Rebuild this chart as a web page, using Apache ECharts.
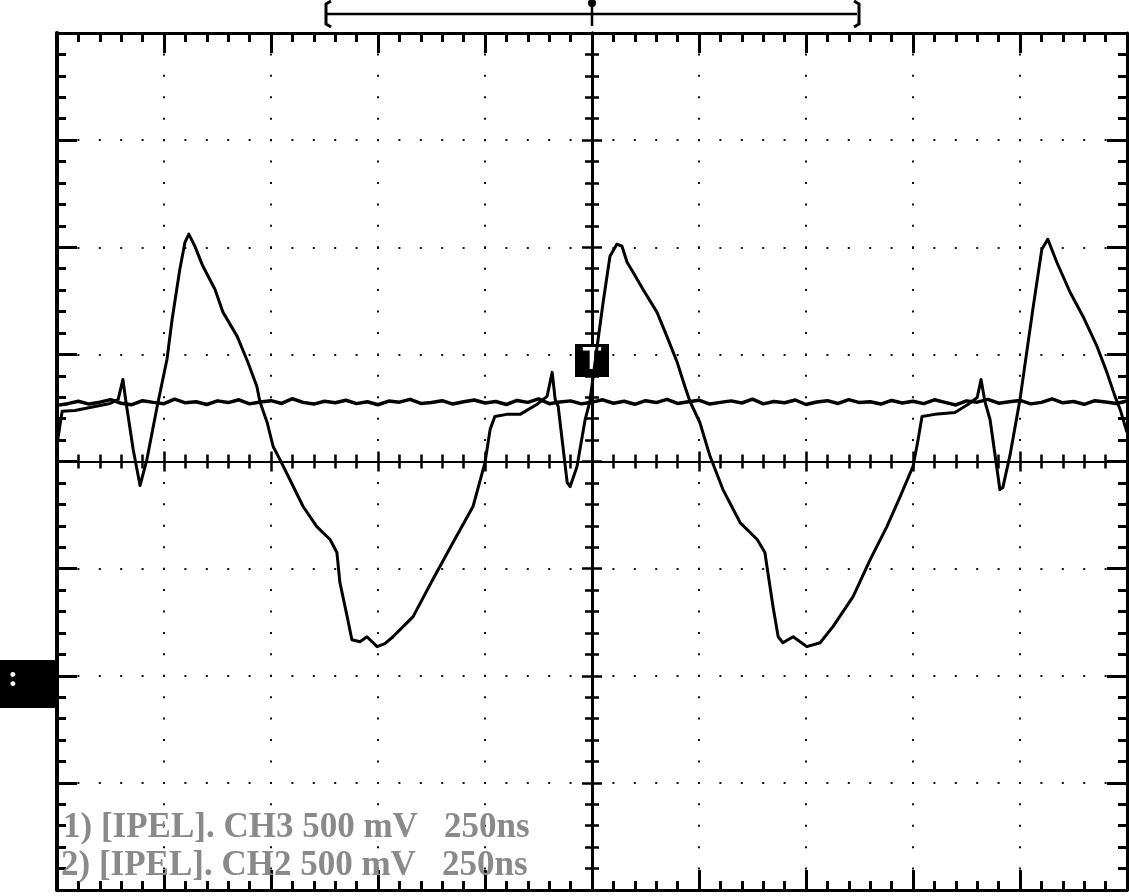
<!DOCTYPE html>
<html>
<head>
<meta charset="utf-8">
<script src="https://cdn.jsdelivr.net/npm/echarts@6/dist/echarts.min.js"></script>
<style>
html,body{margin:0;padding:0;background:#fff;}
#c{width:1129px;height:896px;}
</style>
</head>
<body>
<div id="c"></div>
<script>
// ---- data (time in ns relative to trigger, voltage in mV) ----
const timeMin = -1250, timeMax = 1250, timePerDiv = 250;
const voltMin = -2000, voltMax = 2000, voltPerDiv = 500;

// Channel 1: large triangular / trough waveform
const ch1 = [
  [-1250,79],[-1238,234],[-1208,238],[-1173,252],[-1126,271],[-1107,290],[-1096,383],[-1089,280],
  [-1072,56],[-1056,-112],[-1040,9],[-1016,257],[-993,477],[-981,664],[-963,897],[-951,1023],
  [-942,1061],[-928,1005],[-909,911],[-881,804],[-862,696],[-829,584],[-804,463],[-783,350],
  [-776,280],[-759,182],[-745,70],[-729,9],[-706,-84],[-675,-210],[-643,-304],[-612,-364],
  [-596,-425],[-589,-565],[-572,-724],[-561,-832],[-542,-841],[-526,-818],[-502,-864],[-484,-850],
  [-465,-818],[-418,-724],[-372,-551],[-325,-379],[-278,-210],[-250,-5],[-238,150],[-227,210],
  [-199,220],[-168,220],[-129,266],[-105,304],[-93,416],[-86,290],[-79,257],[-58,-98],
  [-51,-117],[-35,-23],[-16,196],[-5,280],[12,537],[26,743],[42,958],[58,1014],
  [70,1005],[82,930],[96,883],[119,804],[152,696],[175,584],[199,463],[217,350],
  [229,280],[252,182],[276,23],[306,-131],[346,-285],[386,-364],[404,-425],[411,-519],
  [423,-678],[435,-818],[446,-846],[470,-818],[502,-864],[533,-846],[563,-771],[610,-631],
  [650,-458],[689,-304],[720,-164],[750,-23],[762,103],[771,210],[801,220],[848,229],
  [878,266],[900,299],[909,383],[918,280],[930,196],[953,-131],[960,-121],[977,33],
  [1000,290],[1030,710],[1051,991],[1065,1037],[1086,930],[1117,790],[1147,678],[1180,537],
  [1203,416],[1222,304],[1234,243],[1250,136]
];

// Channel 2: nearly flat noisy trace
const ch2 = [
  [-1250,262],[-1225,270],[-1200,281],[-1175,268],[-1150,277],[-1125,289],[-1100,272],[-1075,265],[-1050,284],[-1025,276],
  [-1000,270],[-975,291],[-950,274],[-925,279],[-900,266],[-875,283],[-850,275],[-825,288],[-800,269],[-775,278],
  [-750,284],[-725,271],[-700,293],[-675,276],[-650,268],[-625,281],[-600,274],[-575,286],[-550,270],[-525,279],
  [-500,265],[-475,282],[-450,277],[-425,290],[-400,271],[-375,275],[-350,284],[-325,268],[-300,279],[-275,287],
  [-250,273],[-225,280],[-200,266],[-175,285],[-150,276],[-125,292],[-100,270],[-75,278],[-50,283],[-25,269],
  [0,277],[25,288],[50,272],[75,281],[100,267],[125,284],[150,275],[175,290],[200,271],[225,279],
  [250,286],[275,268],[300,276],[325,283],[350,273],[375,291],[400,269],[425,280],[450,274],[475,287],
  [500,266],[525,278],[550,284],[575,271],[600,289],[625,275],[650,279],[675,268],[700,285],[725,273],
  [750,281],[775,270],[800,288],[825,276],[850,264],[875,283],[900,277],[925,290],[950,272],[975,279],
  [1000,285],[1025,269],[1050,276],[1075,292],[1100,274],[1125,280],[1150,267],[1175,284],[1200,278],[1225,271],
  [1250,282]
];

const triggerPoint = [0, 471];
const triggerLabel = 'T';
const infoLines = ['1) [IPEL]. CH3 500 mV   250ns', '2) [IPEL]. CH2 500 mV   250ns'];
const groundLabel = ':';

// ---- chart ----
const black = '#000';
function axis(extra) {
  return Object.assign({
    type: 'value',
    axisLabel: { show: false },
    splitLine: { show: false },
    axisPointer: { show: false }
  }, extra);
}
function borderTicks(inside) {
  return {
    axisTick: { show: true, inside: inside, length: 20, lineStyle: { color: black, width: 3 } },
    minorTick: { show: true, splitNumber: 5, length: 9, lineStyle: { color: black, width: 3 } }
  };
}
function centerTicks(inside) {
  return {
    axisTick: { show: true, inside: inside, length: 10, lineStyle: { color: black, width: 2.5 } },
    minorTick: { show: true, splitNumber: 5, length: 7, lineStyle: { color: black, width: 2.5 } }
  };
}
const xr = { min: timeMin, max: timeMax, interval: timePerDiv };
const yr = { min: voltMin, max: voltMax, interval: voltPerDiv };

const xAxes = [
  axis(Object.assign({}, xr, borderTicks(true), {
    position: 'bottom',
    axisLine: { show: true, onZero: false, lineStyle: { color: black, width: 3 } },
    splitLine: { show: true, lineStyle: { color: '#111', width: 2, type: [2, 19.425], dashOffset: 1 } }
  })),
  axis(Object.assign({}, xr, borderTicks(true), {
    position: 'top',
    axisLine: { show: true, onZero: false, lineStyle: { color: black, width: 3 } }
  })),
  axis(Object.assign({}, xr, centerTicks(true), {
    position: 'bottom',
    axisLine: { show: true, onZero: true, onZeroAxisIndex: 0, lineStyle: { color: black, width: 2 } }
  })),
  axis(Object.assign({}, xr, centerTicks(false), {
    position: 'bottom',
    axisLine: { show: true, onZero: true, onZeroAxisIndex: 0, lineStyle: { color: black, width: 2 } }
  }))
];
const yAxes = [
  axis(Object.assign({}, yr, borderTicks(true), {
    position: 'left',
    axisLine: { show: true, onZero: false, lineStyle: { color: black, width: 4 } },
    splitLine: { show: true, lineStyle: { color: '#111', width: 2, type: [2, 19.4], dashOffset: 1 } }
  })),
  axis(Object.assign({}, yr, borderTicks(true), {
    position: 'right',
    axisLine: { show: true, onZero: false, lineStyle: { color: black, width: 3 } }
  })),
  axis(Object.assign({}, yr, centerTicks(true), {
    position: 'left',
    axisLine: { show: true, onZero: true, onZeroAxisIndex: 0, lineStyle: { color: black, width: 3 } }
  })),
  axis(Object.assign({}, yr, centerTicks(false), {
    position: 'left',
    axisLine: { show: true, onZero: true, onZeroAxisIndex: 0, lineStyle: { color: black, width: 3 } }
  }))
];

const chart = echarts.init(document.getElementById('c'), null, { renderer: 'canvas' });
const textStyle = {
  fill: '#8a8a8a',
  fontFamily: '"Liberation Serif", "DejaVu Serif", serif',
  fontWeight: 'bold',
  fontSize: 35
};
chart.setOption({
  animation: false,
  backgroundColor: '#fff',
  grid: { left: 57, top: 33, width: 1070, height: 857, outerBoundsMode: 'none', containLabel: false },
  xAxis: xAxes,
  yAxis: yAxes,
  series: [
    {
      type: 'line', name: 'CH2', xAxisIndex: 0, yAxisIndex: 0, data: ch2,
      showSymbol: false, symbol: 'none', z: 4,
      lineStyle: { color: black, width: 3.5, join: 'round' }
    },
    {
      type: 'line', name: 'CH3', xAxisIndex: 0, yAxisIndex: 0, data: ch1,
      showSymbol: false, symbol: 'none', z: 5,
      lineStyle: { color: black, width: 3, join: 'round' },
      markPoint: {
        silent: true,
        data: [{
          coord: triggerPoint, symbol: 'rect', symbolSize: [34, 33],
          itemStyle: { color: black },
          label: { show: true, position: 'inside', formatter: triggerLabel, color: '#fff',
                   fontFamily: '"Liberation Sans", Arial, sans-serif', fontWeight: 'bold', fontSize: 31 }
        }]
      }
    }
  ],
  graphic: [
    { type: 'text', left: 63, top: 810, z: 10, style: Object.assign({ text: infoLines[0] }, textStyle) },
    { type: 'text', left: 61, top: 848, z: 10, style: Object.assign({ text: infoLines[1] }, textStyle) },
    { type: 'rect', left: 0, top: 660, z: 10, shape: { width: 55, height: 48 }, style: { fill: black } },
    { type: 'text', left: 8, top: 663, z: 11, style: { text: groundLabel, fill: '#fff', fontSize: 30,
      fontWeight: 'bold', fontFamily: '"Liberation Serif", serif' } },
    // record-length bracket on top
    { type: 'line', z: 10, shape: { x1: 326, y1: 14, x2: 857, y2: 14 }, style: { stroke: black, lineWidth: 2.5 } },
    { type: 'polyline', z: 10, shape: { points: [[331, 1], [326, 4], [326, 24], [331, 27]] }, style: { stroke: black, lineWidth: 3, fill: null } },
    { type: 'polyline', z: 10, shape: { points: [[854, 1], [859, 4], [859, 24], [854, 27]] }, style: { stroke: black, lineWidth: 3, fill: null } },
    { type: 'line', z: 10, shape: { x1: 592, y1: 2, x2: 592, y2: 26 }, style: { stroke: black, lineWidth: 2.5 } },
    { type: 'circle', z: 10, shape: { cx: 592, cy: 3, r: 4 }, style: { fill: black } }
  ]
});
</script>
</body>
</html>
